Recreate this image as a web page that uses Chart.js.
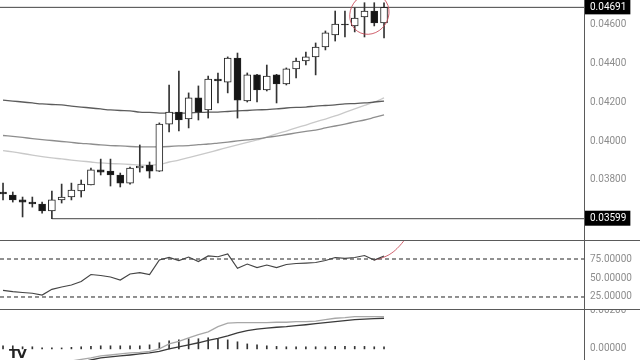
<!DOCTYPE html>
<html>
<head>
<meta charset="utf-8">
<script src="https://cdn.jsdelivr.net/npm/chart.js@4"></script>
<style>
  html, body { margin: 0; padding: 0; background: #fff; }
  #wrap { position: relative; width: 640px; height: 360px; overflow: hidden; background: #fff; }
  #wrap canvas { position: absolute; left: 0; }
  .sep { position: absolute; left: 0; width: 640px; height: 1px; background: #5a5a5a; }
  .vline { position: absolute; top: 0; width: 1px; height: 360px; background: #5a5a5a; }
  #logo { position: absolute; left: 9px; top: 346px; font: bold 13px "DejaVu Sans", sans-serif; color: #222; letter-spacing: -1px; }
</style>
</head>
<body>
<div id="wrap">
  <canvas id="main" width="640" height="240" style="top:0;width:640px;height:240px"></canvas>
  <div class="sep" style="top:240px"></div>
  <canvas id="rsi" width="640" height="68" style="top:241px;width:640px;height:68px"></canvas>
  <div class="sep" style="top:309px"></div>
  <canvas id="macd" width="640" height="50" style="top:310px;width:640px;height:50px"></canvas>
  <div class="vline" style="left:584px"></div>
  <div id="logo">TV</div>
</div>
<script>
// candles, one per session
const candleOpen = [0.03737,0.03721,0.03696,0.03685,0.03675,0.03639,0.03696,0.03711,0.03742,0.03773,
  0.03851,0.03845,0.03825,0.03783,0.03861,0.03876,0.03845,0.04088,0.04150,0.04114,
  0.04223,0.04161,0.04321,0.04305,0.04429,0.04207,0.04342,0.04264,0.04342,0.04295,
  0.04373,0.04414,0.04435,0.04486,0.04548,0.04605,0.04595,0.04641,0.04672,0.04610];
const candleHigh = [0.03783,0.03737,0.03711,0.03711,0.03685,0.03742,0.03778,0.03783,0.03799,0.03861,
  0.03907,0.03907,0.03835,0.03866,0.03980,0.03892,0.04094,0.04290,0.04362,0.04249,
  0.04285,0.04336,0.04352,0.04435,0.04455,0.04352,0.04345,0.04393,0.04345,0.04378,
  0.04429,0.04460,0.04507,0.04569,0.04672,0.04672,0.04688,0.04715,0.04715,0.04715];
const candleLow = [0.03696,0.03685,0.03608,0.03659,0.03628,0.03599,0.03680,0.03696,0.03711,0.03773,
  0.03825,0.03768,0.03763,0.03778,0.03840,0.03809,0.03843,0.04047,0.04052,0.04068,
  0.04109,0.04119,0.04197,0.04249,0.04119,0.04202,0.04202,0.04259,0.04197,0.04290,
  0.04326,0.04393,0.04342,0.04471,0.04517,0.04538,0.04564,0.04538,0.04595,0.04533];
const candleClose = [0.03727,0.03696,0.03685,0.03675,0.03639,0.03696,0.03711,0.03747,0.03778,0.03851,
  0.03840,0.03825,0.03783,0.03861,0.03871,0.03845,0.04088,0.04150,0.04109,0.04223,
  0.04150,0.04321,0.04311,0.04429,0.04212,0.04342,0.04264,0.04336,0.04295,0.04373,
  0.04414,0.04435,0.04486,0.04559,0.04605,0.04600,0.04636,0.04672,0.04610,0.04691];

// moving averages
const maSlow = [0.04212,0.04207,0.04202,0.04197,0.04192,0.04189,0.04187,0.04181,0.04176,0.04171,
  0.04166,0.04161,0.04158,0.04156,0.04150,0.04148,0.04145,0.04145,0.04145,0.04145,
  0.04148,0.04150,0.04150,0.04153,0.04156,0.04158,0.04161,0.04163,0.04166,0.04171,
  0.04174,0.04176,0.04181,0.04184,0.04187,0.04192,0.04194,0.04197,0.04202,0.04207];
const maMid = [0.04029,0.04024,0.04019,0.04013,0.04008,0.04003,0.03998,0.03993,0.03988,0.03985,
  0.03980,0.03977,0.03975,0.03972,0.03970,0.03970,0.03970,0.03972,0.03975,0.03977,
  0.03982,0.03985,0.03990,0.03995,0.04001,0.04006,0.04011,0.04019,0.04026,0.04034,
  0.04042,0.04050,0.04057,0.04068,0.04078,0.04088,0.04099,0.04109,0.04122,0.04135];
const maFast = [0.03951,0.03944,0.03936,0.03928,0.03920,0.03913,0.03908,0.03902,0.03897,0.03892,
  0.03887,0.03884,0.03882,0.03879,0.03876,0.03876,0.03879,0.03892,0.03902,0.03915,
  0.03928,0.03941,0.03954,0.03967,0.03980,0.03993,0.04006,0.04021,0.04037,0.04052,
  0.04068,0.04083,0.04099,0.04114,0.04130,0.04148,0.04166,0.04184,0.04202,0.04223];

// RSI
const rsiValues = [33.8,32.0,30.9,29.9,27.6,35.1,38.2,40.8,45.4,54.6,
  53.3,51.3,47.4,55.3,57.0,54.6,73.7,77.0,73.0,77.6,
  71.7,79.0,78.0,81.6,62.8,68.4,63.8,67.1,63.6,67.8,
  69.1,69.7,70.4,73.0,77.0,75.9,77.0,79.6,73.7,79.0];
const rsiLevels = [75, 25];
const rsiMarkX = [38, 39, 39.8, 40.5, 41.1];
const rsiMarkY = [73.7, 77.5, 83, 91, 100];

// MACD
const macdLine = [-0.00132,-0.00121,-0.00110,-0.00100,-0.00089,-0.00079,-0.00068,-0.00063,-0.00055,-0.00047,
  -0.00037,-0.00032,-0.00026,-0.00021,-0.00018,-0.00013,0.00000,0.00026,0.00039,0.00058,
  0.00074,0.00089,0.00116,0.00134,0.00137,0.00137,0.00137,0.00137,0.00139,0.00139,
  0.00142,0.00142,0.00145,0.00153,0.00160,0.00163,0.00168,0.00168,0.00168,0.00168];
const signalLine = [-0.00153,-0.00142,-0.00132,-0.00121,-0.00110,-0.00100,-0.00089,-0.00079,-0.00068,-0.00058,
  -0.00047,-0.00042,-0.00037,-0.00032,-0.00026,-0.00021,-0.00013,0.00000,0.00011,0.00021,
  0.00032,0.00045,0.00055,0.00068,0.00084,0.00095,0.00103,0.00108,0.00113,0.00116,
  0.00121,0.00126,0.00132,0.00137,0.00142,0.00147,0.00153,0.00155,0.00158,0.00160];
const macdHist = [0.00016,0.00016,0.00011,0.00011,0.00005,0.00005,0.00005,0.00008,0.00011,0.00013,
  0.00016,0.00016,0.00016,0.00016,0.00016,0.00021,0.00032,0.00042,0.00047,0.00053,
  0.00053,0.00058,0.00053,0.00047,0.00037,0.00026,0.00021,0.00016,0.00013,0.00011,
  0.00011,0.00011,0.00011,0.00011,0.00013,0.00013,0.00013,0.00013,0.00011,0.00011];

// axis ticks and levels
const priceTicks = [0.03599, 0.03800, 0.04000, 0.04200, 0.04400, 0.04600, 0.04691];
const priceLevels = [0.04691, 0.03599];
const rsiTicks = [25, 50, 75];
const macdTicks = [0, 0.002];

const X_MIN = -0.31, X_MAX = 59.47;
const idx = candleOpen.map((_, i) => i);
const pts = arr => arr.map((v, i) => ({ x: i, y: v }));
const isLevel = v => priceLevels.some(l => Math.abs(l - v) < 1e-7);

const xAxis = { type: 'linear', min: X_MIN, max: X_MAX, display: false, offset: false };
const fitRight = s => { s.width = 56; s.paddingTop = 0; s.paddingBottom = 0; };
const tickFont = { family: 'Roboto', size: 10 };

const yAxis = (min, max, ticks, extra) => Object.assign({
  position: 'right', min, max,
  grid: { display: false, drawTicks: false }, border: { display: false },
  afterBuildTicks: s => { s.ticks = ticks.map(v => ({ value: v })); },
  afterFit: fitRight,
  ticks: { autoSkip: false, padding: 6, font: tickFont, color: '#8d8d8d', callback: v => Number(v).toFixed(5) }
}, extra || {});

const base = {
  responsive: false, animation: false,
  layout: { padding: 0 },
  plugins: { legend: { display: false }, tooltip: { enabled: false } }
};

// hand drawn circle round the last candles
const circleMark = {
  id: 'circleMark',
  afterDatasetsDraw(chart) {
    const { ctx, scales: { x, y } } = chart;
    ctx.save();
    ctx.strokeStyle = 'rgba(200,70,85,0.85)';
    ctx.lineWidth = 1;
    ctx.beginPath();
    ctx.ellipse(x.getPixelForValue(37.5), y.getPixelForValue(0.04657), 19, 21, 0.6, 0, Math.PI * 2);
    ctx.stroke();
    ctx.restore();
  }
};

new Chart(document.getElementById('main'), {
  type: 'bar',
  data: {
    datasets: [
      {
        label: 'body',
        data: idx.map(i => ({ x: i, y: [candleOpen[i], candleClose[i]] })),
        grouped: false, barThickness: 7,
        backgroundColor: c => candleClose[c.dataIndex] >= candleOpen[c.dataIndex] ? '#ffffff' : '#161616',
        borderColor: '#222', borderWidth: 1, borderSkipped: false
      },
      {
        label: 'wick',
        data: idx.map(i => ({ x: i, y: [candleLow[i], candleHigh[i]] })),
        grouped: false, barThickness: 1, backgroundColor: '#333'
      },
      { type: 'line', label: 'MA slow', data: pts(maSlow), borderColor: '#5c5c5c', borderWidth: 1.3, pointRadius: 0, tension: 0.3 },
      { type: 'line', label: 'MA mid', data: pts(maMid), borderColor: '#8e8e8e', borderWidth: 1.3, pointRadius: 0, tension: 0.3 },
      { type: 'line', label: 'MA fast', data: pts(maFast), borderColor: '#c9c9c9', borderWidth: 1.3, pointRadius: 0, tension: 0.3 },
      { type: 'line', label: 'high', data: [{ x: X_MIN, y: priceLevels[0] }, { x: X_MAX, y: priceLevels[0] }], borderColor: '#444', borderWidth: 1, pointRadius: 0 },
      { type: 'line', label: 'low', data: [{ x: 5, y: priceLevels[1] }, { x: X_MAX, y: priceLevels[1] }], borderColor: '#444', borderWidth: 1, pointRadius: 0 }
    ]
  },
  options: Object.assign({}, base, {
    scales: {
      x: xAxis,
      y: yAxis(0.03489, 0.04729, priceTicks, {
        ticks: {
          autoSkip: false, padding: 6, font: tickFont,
          color: c => isLevel(c.tick.value) ? '#ffffff' : '#8d8d8d',
          showLabelBackdrop: c => isLevel(c.tick.value),
          backdropColor: '#000',
          backdropPadding: { top: 2, bottom: 1, left: 5, right: 4 },
          callback: v => Number(v).toFixed(5)
        }
      })
    }
  }),
  plugins: [circleMark]
});

new Chart(document.getElementById('rsi'), {
  type: 'line',
  data: {
    datasets: [
      { label: 'RSI', data: pts(rsiValues), borderColor: '#444', borderWidth: 1.2, pointRadius: 0 },
      { label: 'mark', data: rsiMarkX.map((x, i) => ({ x, y: rsiMarkY[i] })), borderColor: 'rgba(200,70,85,0.85)', borderWidth: 1, pointRadius: 0, tension: 0.4 },
      ...rsiLevels.map(l => ({
        label: 'level ' + l, data: [{ x: X_MIN, y: l }, { x: X_MAX, y: l }],
        borderColor: '#222', borderWidth: 1, borderDash: [4, 3], pointRadius: 0
      }))
    ]
  },
  options: Object.assign({}, base, {
    scales: { x: xAxis, y: yAxis(9.2, 98.7, rsiTicks) }
  })
});

new Chart(document.getElementById('macd'), {
  type: 'bar',
  data: {
    datasets: [
      { type: 'line', label: 'MACD', data: pts(macdLine), borderColor: '#a8a8a8', borderWidth: 1.3, pointRadius: 0 },
      { type: 'line', label: 'Signal', data: pts(signalLine), borderColor: '#3a3a3a', borderWidth: 1.3, pointRadius: 0 },
      { label: 'Hist', data: pts(macdHist), grouped: false, barThickness: 1, backgroundColor: '#333' }
    ]
  },
  options: Object.assign({}, base, {
    scales: { x: xAxis, y: yAxis(-0.00058, 0.00203, macdTicks) }
  })
});
</script>
</body>
</html>
